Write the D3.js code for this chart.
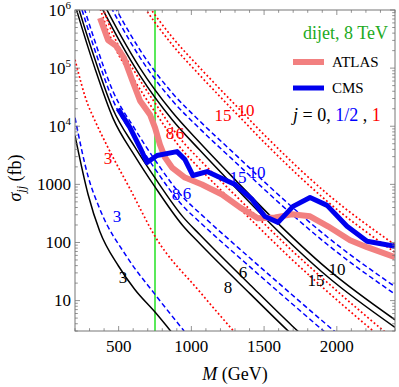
<!DOCTYPE html>
<html>
<head>
<meta charset="utf-8">
<script src="https://cdn.jsdelivr.net/npm/d3@7"></script>
<style>
  body { margin: 0; background: #fff; }
</style>
</head>
<body>
<div id="chart"></div>
<script>
// ---- data (M in GeV, sigma_jj in fb) ----

// label "3" curves, one per spin
const massSpin0Three = [200, 290, 370, 500, 610, 750, 860];
const xsecSpin0Three = [6900, 670, 156, 39, 15.7, 6.35, 2.95];
const massSpinHalfThree = [200, 290, 370, 560, 750, 950];
const xsecSpinHalfThree = [14000, 1370, 380, 55, 12.8, 3.0];
const massSpin1Three = [200, 290, 325, 440, 580, 750, 1060, 1290];
const xsecSpin1Three = [140000, 23000, 14500, 3700, 820, 128, 14, 3.0];

// labels "8" and "6" share a mass grid
const massPairA = [200, 220, 337, 461, 612, 750, 942, 1059, 1403, 1692, 2000, 2400];
const xsecSpin0Eight = [1.24e6, 8.4e5, 9.9e4, 1.38e4, 3070, 904, 194, 95, 13.2, 2.6, 0.53, 0.075];
const xsecSpin0Six = [1.77e6, 1.19e6, 1.42e5, 1.96e4, 4380, 1290, 276, 136, 18.8, 3.7, 0.75, 0.106];
const xsecSpinHalfEight = [2.5e6, 1.71e6, 2.03e5, 2.81e4, 6270, 1850, 424, 223, 38, 8.85, 1.92, 0.28];
const xsecSpinHalfSix = [3.6e6, 2.44e6, 2.89e5, 4.01e4, 8930, 2630, 604, 318, 54, 12.6, 2.74, 0.40];
const xsecSpin1Eight = [2.5e7, 1.63e7, 1.94e6, 2.69e5, 5.98e4, 1.76e4, 3780, 1850, 257, 50.9, 10.3, 1.46];
const xsecSpin1Six = [3.6e7, 2.33e7, 2.76e6, 3.83e5, 8.53e4, 2.51e4, 5380, 2640, 366, 72.6, 14.7, 2.07];

// labels "15" and "10" share a mass grid
const massPairB = [370, 406, 509, 647, 867, 1059, 1314, 1541, 1939, 2400];
const xsecSpin0Fifteen = [1.27e6, 8.61e5, 2.85e5, 7.45e4, 1.31e4, 3850, 824, 215, 25.5, 3.47];
const xsecSpin0Ten = [1.72e6, 1.16e6, 3.85e5, 1.0e5, 1.77e4, 5190, 1110, 290, 34.4, 4.68];
const xsecSpinHalfFifteen = [2.6e6, 1.76e6, 5.82e5, 1.52e5, 2.80e4, 9020, 2270, 665, 90.6, 12.9];
const xsecSpinHalfTen = [3.5e6, 2.37e6, 7.85e5, 2.05e5, 3.78e4, 1.22e4, 3060, 897, 122, 17.4];
const xsecSpin1Fifteen = [2.6e7, 1.68e7, 5.56e6, 1.45e6, 2.55e5, 7.5e4, 1.61e4, 4200, 498, 67.6];
const xsecSpin1Ten = [3.5e7, 2.26e7, 7.5e6, 1.96e6, 3.44e5, 1.01e5, 2.17e4, 5660, 671, 91.2];

// experimental limits
const atlasMass = [372, 427, 482, 537, 592, 647, 716, 750, 784, 819, 867, 956, 1073, 1211, 1334, 1458, 1575, 1692, 1816, 1939, 2091, 2208, 2400];
const atlasXsec = [730000, 305000, 241000, 150000, 63000, 27500, 15800, 9460, 4830, 2890, 1950, 1310, 995, 670, 401, 260, 270, 305, 282, 190, 109, 83, 56];
const cmsMass = [496, 578, 647, 695, 764, 901, 956, 1011, 1108, 1300, 1417, 1506, 1596, 1699, 1816, 1933, 2070, 2208, 2400];
const cmsXsec = [20000, 9460, 4300, 2380, 3130, 3660, 2670, 1420, 1660, 995, 551, 281, 222, 418, 596, 435, 190, 105, 86];

const markerMass = 750;

// curve labels: [mass, xsec, text, spin]
const curveLabels = [
  [530, 25, '3', 0], [1252, 17, '8', 0], [1355, 31, '6', 0], [1857, 22.5, '15', 0], [2001, 35, '10', 0],
  [489, 281, '3', 1], [894, 671, '8', 1], [970, 698, '6', 1], [1321, 1310, '15', 1], [1451, 1600, '10', 1],
  [427, 2890, '3', 2], [853, 7760, '8', 2], [922, 7760, '6', 2], [1217, 15800, '15', 2], [1376, 19300, '10', 2]
];

const xMajorTicks = [500, 1000, 1500, 2000];
const yMajorTicks = [10, 100, 1000, 1e4, 1e5, 1e6];
const yTickBase = ['10', '100', '1000', '10', '10', '10'];
const yTickPower = ['', '', '', '4', '5', '6'];

// ---- drawing ----
const width = 399, height = 387;
const spinColor = ['#000000', '#0000ff', '#ff0000'];
const serif = "'Liberation Serif', 'Times New Roman', Times, 'DejaVu Serif', serif";

const svg = d3.select('#chart').append('svg')
  .attr('width', width)
  .attr('height', height)
  .attr('font-family', serif)
  .style('font-family', serif);

const x = d3.scaleLinear().domain([200, 2400]).range([75, 395]);
const y = d3.scaleLog().domain([3, 1e6]).range([331, 10]);

svg.append('defs').append('clipPath')
  .attr('id', 'plot-clip')
  .append('rect')
  .attr('x', 75).attr('y', 10)
  .attr('width', 320).attr('height', 321);

const plot = svg.append('g').attr('clip-path', 'url(#plot-clip)');

// green marker line
plot.append('line')
  .attr('x1', x(markerMass)).attr('x2', x(markerMass))
  .attr('y1', 10).attr('y2', 331)
  .attr('stroke', '#00dd00')
  .attr('stroke-width', 1.3);

const theoryCurves = [
  { m: massSpin0Three, s: xsecSpin0Three, spin: 0 },
  { m: massPairA, s: xsecSpin0Eight, spin: 0 },
  { m: massPairA, s: xsecSpin0Six, spin: 0 },
  { m: massPairB, s: xsecSpin0Fifteen, spin: 0 },
  { m: massPairB, s: xsecSpin0Ten, spin: 0 },
  { m: massSpinHalfThree, s: xsecSpinHalfThree, spin: 1 },
  { m: massPairA, s: xsecSpinHalfEight, spin: 1 },
  { m: massPairA, s: xsecSpinHalfSix, spin: 1 },
  { m: massPairB, s: xsecSpinHalfFifteen, spin: 1 },
  { m: massPairB, s: xsecSpinHalfTen, spin: 1 },
  { m: massSpin1Three, s: xsecSpin1Three, spin: 2 },
  { m: massPairA, s: xsecSpin1Eight, spin: 2 },
  { m: massPairA, s: xsecSpin1Six, spin: 2 },
  { m: massPairB, s: xsecSpin1Fifteen, spin: 2 },
  { m: massPairB, s: xsecSpin1Ten, spin: 2 }
];

const smooth = d3.line()
  .x(function(d) { return x(d[0]); })
  .y(function(d) { return y(d[1]); })
  .curve(d3.curveMonotoneX);

const dashFor = ['none', '5,3', '1.8,2.4'];
const widthFor = [1.5, 1.5, 1.7];

plot.selectAll('path.theory')
  .data(theoryCurves)
  .enter()
  .append('path')
  .attr('class', 'theory')
  .attr('fill', 'none')
  .attr('stroke', function(d) { return spinColor[d.spin]; })
  .attr('stroke-width', function(d) { return widthFor[d.spin]; })
  .attr('stroke-dasharray', function(d) { return dashFor[d.spin]; })
  .attr('d', function(d) { return smooth(d3.zip(d.m, d.s)); });

const straight = d3.line()
  .x(function(d) { return x(d[0]); })
  .y(function(d) { return y(d[1]); });

plot.append('path')
  .attr('fill', 'none')
  .attr('stroke', '#f28080')
  .attr('stroke-width', 6)
  .attr('stroke-linejoin', 'round')
  .attr('d', straight(d3.zip(atlasMass, atlasXsec)));

plot.append('path')
  .attr('fill', 'none')
  .attr('stroke', '#0000ee')
  .attr('stroke-width', 5)
  .attr('stroke-linejoin', 'round')
  .attr('d', straight(d3.zip(cmsMass, cmsXsec)));

// curve labels
svg.selectAll('text.curve-label')
  .data(curveLabels)
  .enter()
  .append('text')
  .attr('class', 'curve-label')
  .attr('x', function(d) { return x(d[0]); })
  .attr('y', function(d) { return y(d[1]); })
  .attr('dy', '0.35em')
  .attr('text-anchor', 'middle')
  .attr('font-size', 17)
  .attr('fill', function(d) { return spinColor[d[3]]; })
  .text(function(d) { return d[2]; });

// frame
const frameColor = '#777';
svg.append('rect')
  .attr('x', 75).attr('y', 10)
  .attr('width', 320).attr('height', 321)
  .attr('fill', 'none')
  .attr('stroke', frameColor)
  .attr('stroke-width', 1);

const ticks = svg.append('g').attr('stroke', frameColor).attr('stroke-width', 0.8);

const xMinor = d3.range(200, 2401, 100);
xMinor.forEach(function(v) {
  const len = xMajorTicks.includes(v) ? 5 : 2.8;
  ticks.append('line').attr('x1', x(v)).attr('x2', x(v)).attr('y1', 331).attr('y2', 331 - len);
  ticks.append('line').attr('x1', x(v)).attr('x2', x(v)).attr('y1', 10).attr('y2', 10 + len);
});

const yMinor = [];
[1, 10, 100, 1000, 1e4, 1e5].forEach(function(b) {
  for (let k = 1; k < 10; k++) {
    const v = b * k;
    if (v >= 3 && v <= 1e6) yMinor.push(v);
  }
});
yMinor.push(1e6);
yMinor.forEach(function(v) {
  const len = yMajorTicks.includes(v) ? 5 : 2.8;
  ticks.append('line').attr('y1', y(v)).attr('y2', y(v)).attr('x1', 75).attr('x2', 75 + len);
  ticks.append('line').attr('y1', y(v)).attr('y2', y(v)).attr('x1', 395).attr('x2', 395 - len);
});

// tick labels
svg.selectAll('text.xtick')
  .data(xMajorTicks)
  .enter()
  .append('text')
  .attr('class', 'xtick')
  .attr('x', function(d) { return x(d); })
  .attr('y', 352)
  .attr('text-anchor', 'middle')
  .attr('font-size', 17)
  .text(function(d) { return d; });

const yLabels = svg.selectAll('text.ytick')
  .data(yMajorTicks)
  .enter()
  .append('text')
  .attr('class', 'ytick')
  .attr('x', 71)
  .attr('y', function(d) { return y(d); })
  .attr('dy', '0.33em')
  .attr('text-anchor', 'end')
  .attr('font-size', 17);
yLabels.append('tspan').text(function(d, i) { return yTickBase[i]; });
yLabels.append('tspan')
  .attr('font-size', 11)
  .attr('dy', -7)
  .text(function(d, i) { return yTickPower[i]; });

// axis titles
const yTitle = svg.append('text')
  .attr('transform', 'translate(21,178) rotate(-90)')
  .attr('text-anchor', 'middle')
  .attr('font-size', 18);
yTitle.append('tspan').attr('font-style', 'italic').text('σ');
yTitle.append('tspan').attr('font-style', 'italic').attr('font-size', 12).attr('dy', 4).text('jj');
yTitle.append('tspan').attr('dy', -4).text(' (fb)');

const xTitle = svg.append('text')
  .attr('x', 235)
  .attr('y', 380)
  .attr('text-anchor', 'middle')
  .attr('font-size', 18);
xTitle.append('tspan').attr('font-style', 'italic').text('M');
xTitle.append('tspan').text('  (GeV)');

// legend
svg.append('text')
  .attr('x', 388).attr('y', 39)
  .attr('text-anchor', 'end')
  .attr('font-size', 18)
  .attr('fill', '#22aa22')
  .text('dijet, 8 TeV');

svg.append('line')
  .attr('x1', 293).attr('x2', 324).attr('y1', 62).attr('y2', 62)
  .attr('stroke', '#f28080').attr('stroke-width', 6);
svg.append('text')
  .attr('x', 332).attr('y', 67)
  .attr('font-size', 15)
  .text('ATLAS');

svg.append('line')
  .attr('x1', 293).attr('x2', 324).attr('y1', 88).attr('y2', 88)
  .attr('stroke', '#0000ee').attr('stroke-width', 5);
svg.append('text')
  .attr('x', 332).attr('y', 93)
  .attr('font-size', 15)
  .text('CMS');

const spinLegend = svg.append('text')
  .attr('x', 293).attr('y', 121)
  .attr('font-size', 18);
spinLegend.append('tspan').attr('font-style', 'italic').text('j');
spinLegend.append('tspan').text(' = 0, ');
spinLegend.append('tspan').attr('fill', '#0000ff').text('1/2');
spinLegend.append('tspan').text(' , ');
spinLegend.append('tspan').attr('fill', '#ff0000').text('1');
</script>
</body>
</html>
